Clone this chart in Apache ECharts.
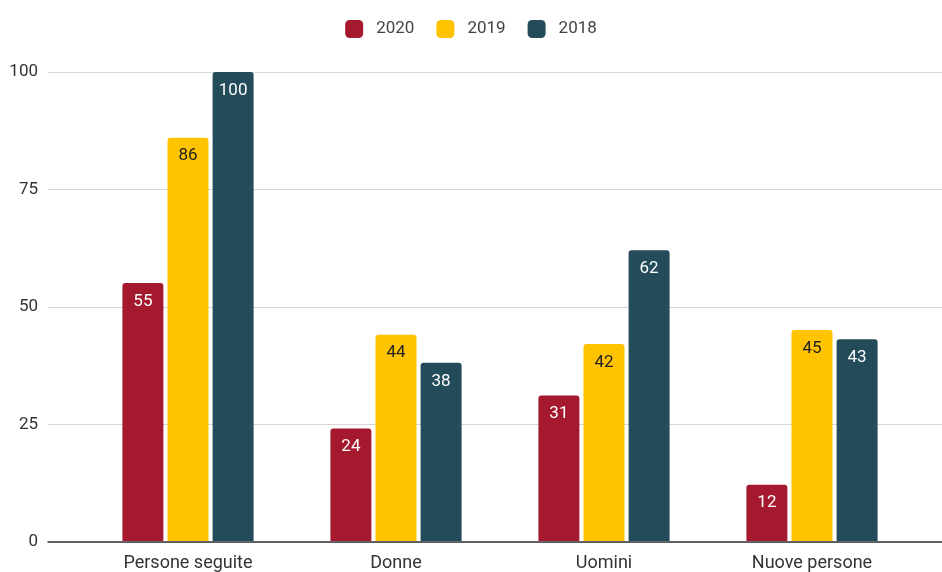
<!DOCTYPE html>
<html>
<head>
<meta charset="utf-8">
<script src="https://cdn.jsdelivr.net/npm/echarts@6/dist/echarts.min.js"></script>
<style>
  html, body { margin: 0; padding: 0; background: #ffffff; }
  #chart { width: 942px; height: 572px; }
</style>
</head>
<body>
<div id="chart"></div>
<script>
const categories = ['Persone seguite', 'Donne', 'Uomini', 'Nuove persone'];
const years = ['2020', '2019', '2018'];
const values2020 = [55, 24, 31, 12];
const values2019 = [86, 44, 42, 45];
const values2018 = [100, 38, 62, 43];
const yTicks = [0, 25, 50, 75, 100];

const colors = ['#A5192F', '#FFC300', '#244B5A'];
const labelColors = ['#ffffff', '#222222', '#ffffff'];
const seriesValues = [values2020, values2019, values2018];

const FONT = 'Roboto, "Noto Sans", sans-serif';
const TOP = 72, BOTTOM = 572 - 542;

const chart = echarts.init(document.getElementById('chart'), null, { renderer: 'canvas' });

chart.setOption({
  animation: false,
  textStyle: { fontFamily: FONT },
  legend: {
    top: 15,
    left: 'center',
    itemWidth: 18,
    itemHeight: 18,
    itemGap: 22,
    icon: 'roundRect',
    textStyle: { fontSize: 17, color: '#444444', fontFamily: FONT, padding: [0, 0, 0, 8] },
    data: years
  },
  grid: [
    // value scale with gridlines spanning the full width
    { left: 48, right: 0, top: TOP, bottom: BOTTOM, containLabel: false },
    // bar area, inset from the gridlines
    { left: 84, right: 26, top: TOP, bottom: BOTTOM, containLabel: false }
  ],
  xAxis: [
    {
      gridIndex: 0,
      type: 'value',
      min: 0, max: 1,
      axisLine: { show: true, lineStyle: { color: '#333333', width: 1.5 } },
      axisTick: { show: false },
      axisLabel: { show: false },
      splitLine: { show: false }
    },
    {
      gridIndex: 1,
      type: 'category',
      data: categories,
      axisLine: { show: false },
      axisTick: { show: false },
      axisLabel: { fontSize: 18, color: '#333333', margin: 13, fontFamily: FONT }
    }
  ],
  yAxis: [
    {
      gridIndex: 0,
      type: 'value',
      min: 0, max: 100, interval: 25,
      axisLine: { show: false },
      axisTick: { show: false },
      axisLabel: {
        fontSize: 17, color: '#333333', margin: 10, fontFamily: FONT,
        formatter: v => yTicks.includes(v) ? String(v) : ''
      },
      splitLine: { lineStyle: { color: '#d6d6d6', width: 1 } }
    },
    {
      gridIndex: 1,
      type: 'value',
      min: 0, max: 100, interval: 25,
      show: false
    }
  ],
  series: years.map((y, i) => ({
    name: y,
    type: 'bar',
    xAxisIndex: 1,
    yAxisIndex: 1,
    data: seriesValues[i],
    barWidth: 41,
    barGap: '10%',
    itemStyle: { color: colors[i], borderRadius: [3, 3, 0, 0] },
    label: {
      show: true,
      position: 'insideTop',
      distance: 10,
      fontSize: 17,
      color: labelColors[i],
      fontFamily: FONT
    }
  }))
});
</script>
</body>
</html>
